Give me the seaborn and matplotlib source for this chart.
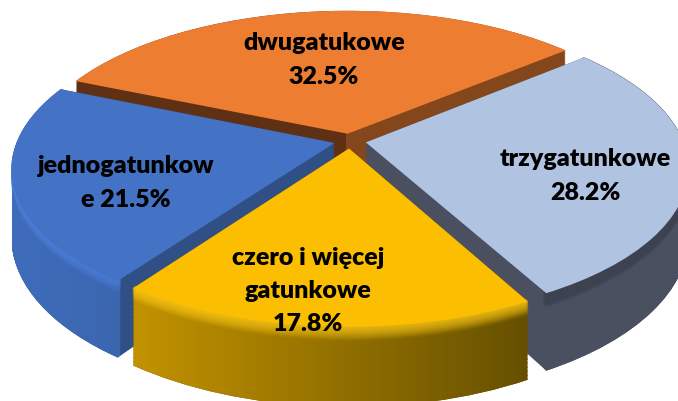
import numpy as np
import matplotlib
matplotlib.use("Agg")
import matplotlib.pyplot as plt
import seaborn as sns
from matplotlib.path import Path
from matplotlib.patches import PathPatch
from matplotlib.transforms import Transform
from matplotlib.colors import to_rgb

categories = ["dwugatukowe", "jednogatunkow\ne", "czero i więcej\ngatunkowe", "trzygatunkowe"]
shares = [32.5, 21.5, 17.8, 28.2]
label_texts = ["dwugatukowe\n32.5%", "jednogatunkow\ne 21.5%", "czero i więcej\ngatunkowe\n17.8%", "trzygatunkowe\n28.2%"]
top_colors = ["#ED7D31", "#4472C4", "#FCBE00", "#B0C4E2"]
arc_left = [None, "#3F6DBC", "#C29200", "#4A5060"]
arc_right = [None, "#345694", "#665000", "#4A5060"]
inner_left = ["#5F3014", "#2F4F85", "#6B5000", "#4A5060"]
inner_right = ["#84471C", "#2F4F85", "#6B5000", "#4A5060"]
bevel_colors = [None, "#4F82DC", "#FFCB1A", "#3C4250"]
label_xy = [(324, 60), (126, 183), (308, 291), (585, 176)]
layer_order = [0, 3, 1, 2]

sns.set_theme(style="white")
plt.rcParams["font.family"] = ["Lato", "DejaVu Sans"]

W, H = 678, 402
CX, CY, A, B, P, D = 350, 260, 322, 148, 0.17, 66
INNER_SPLIT = 0.55


class Perspective(Transform):
    input_dims = 2
    output_dims = 2
    is_affine = False
    has_inverse = False

    def __init__(self, z=0.0):
        super().__init__()
        self.z = z

    def transform_non_affine(self, v):
        v = np.asarray(v, float)
        w = 1 + P * v[:, 1]
        return np.column_stack([CX + A * v[:, 0] / w, CY + (B * v[:, 1] - D * self.z) / w])


def lift(path, z):
    return Perspective(z).transform_path(path)


def gradient(c0, c1):
    t = np.linspace(0, 1, 256)[None, :, None]
    return (1 - t) * np.array(to_rgb(c0))[None, None, :] + t * np.array(to_rgb(c1))[None, None, :]


def step(c0, c1, split):
    t = (np.linspace(0, 1, 256) > split).astype(float)[None, :, None]
    return (1 - t) * np.array(to_rgb(c0))[None, None, :] + t * np.array(to_rgb(c1))[None, None, :]


fig = plt.figure(figsize=(W / 100, H / 100), dpi=100)
ax = fig.add_axes([0, 0, 1, 1])

explode = [0.05] * len(shares)
tops, _ = ax.pie(shares, startangle=40, counterclock=True, explode=explode,
                 colors=top_colors, radius=0.985)
rings, _ = ax.pie(shares, startangle=40, counterclock=True, explode=explode,
                  radius=0.985, wedgeprops={"width": 0.012})
ring_paths = [r.get_path() for r in rings]
for r in rings:
    r.remove()
ax.set_aspect("auto")
ax.set_xlim(0, W)
ax.set_ylim(0, H)
ax.axis("off")

zs = np.linspace(0, 1, 60)
for layer, i in enumerate(layer_order):
    base = 10 * (layer + 1)
    top = tops[i]
    full = Path.make_compound_path(*[lift(top.get_path(), z) for z in zs])
    ext = full.get_extents()
    box = (ext.x0, ext.x1, ext.y0, ext.y1)

    im = ax.imshow(step(inner_left[i], inner_right[i], INNER_SPLIT), extent=box, aspect="auto",
                   zorder=base, interpolation="nearest")
    im.set_clip_path(full, ax.transData)

    if arc_left[i] is not None:
        outer = Path.make_compound_path(*[lift(ring_paths[i], z) for z in zs])
        im2 = ax.imshow(gradient(arc_left[i], arc_right[i]), extent=box, aspect="auto",
                        zorder=base + 1, interpolation="bilinear")
        im2.set_clip_path(outer, ax.transData)

    if bevel_colors[i] is not None:
        n = 28
        for k, z in enumerate(np.linspace(0.18, 0.0, n)):
            ax.add_patch(PathPatch(lift(ring_paths[i], z), facecolor=bevel_colors[i],
                                   edgecolor=bevel_colors[i], lw=0.8,
                                   alpha=0.01 + 0.16 * k / (n - 1),
                                   zorder=base + 2 + k * 0.01))

    top.set_transform(Perspective(0.0) + ax.transData)
    top.set_zorder(base + 3)
    top.set_edgecolor("none")

ax.set_xlim(0, W)
ax.set_ylim(0, H)

for text, (x, y) in zip(label_texts, label_xy):
    ax.text(x, H - y, text, ha="center", va="center", fontsize=18, fontweight="heavy",
            color="black", linespacing=1.62, zorder=100)

fig.savefig("out.png", dpi=100)
